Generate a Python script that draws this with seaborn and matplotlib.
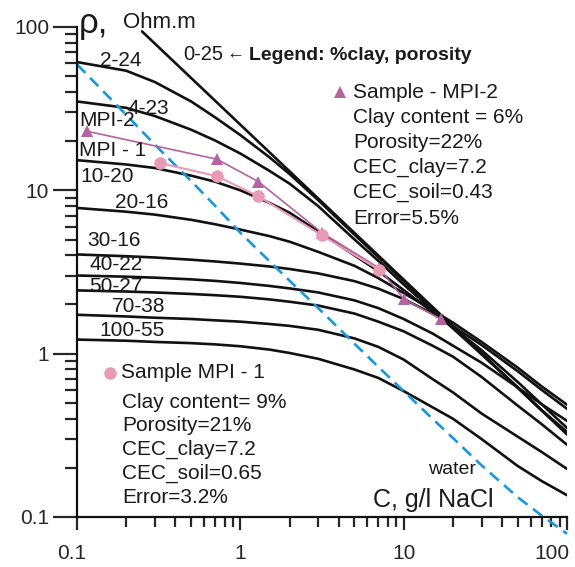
import numpy as np
import pandas as pd
import matplotlib
matplotlib.use("Agg")
import matplotlib.pyplot as plt
from matplotlib.ticker import LogLocator, NullFormatter
import matplotlib.transforms as mtransforms
import seaborn as sns

# Model curves: rho (Ohm.m) vs C (g/l NaCl); label = %clay-porosity
c_grid = [0.1, 0.2, 0.3, 0.5, 0.7, 1, 1.5, 2, 3, 5, 7, 10, 15, 20, 30, 50, 70, 100]
curve_rho = {
    "2-24": [61, 54, 46, 35, 28, 21.8, 16.0, 12.6, 8.7, 5.35, 3.9, 2.78, 1.90, 1.45, 1.0, 0.62, 0.45, 0.327],
    "4-23": [35, 32, 28.5, 23.5, 20.2, 16.8, 13.2, 11.0, 8.0, 5.0, 3.7, 2.65, 1.85, 1.43, 0.99, 0.62, 0.45, 0.332],
    "10-20": [15.3, 14.4, 13.7, 12.3, 11.3, 10.0, 8.4, 7.3, 5.6, 4.0, 3.2, 2.45, 1.8, 1.45, 1.05, 0.67, 0.49, 0.351],
    "20-16": [7.8, 7.4, 7.1, 6.6, 6.2, 5.75, 5.25, 4.85, 4.2, 3.45, 2.9, 2.35, 1.85, 1.55, 1.18, 0.82, 0.63, 0.487],
    "30-16": [4.05, 3.95, 3.88, 3.76, 3.67, 3.56, 3.42, 3.30, 3.10, 2.78, 2.50, 2.16, 1.76, 1.48, 1.13, 0.78, 0.60, 0.46],
    "40-22": [3.01, 2.96, 2.92, 2.85, 2.79, 2.71, 2.60, 2.51, 2.37, 2.12, 1.90, 1.63, 1.33, 1.12, 0.88, 0.62, 0.49, 0.388],
    "50-27": [2.44, 2.40, 2.37, 2.32, 2.28, 2.23, 2.15, 2.08, 1.97, 1.76, 1.57, 1.37, 1.12, 0.96, 0.72, 0.48, 0.37, 0.277],
    "70-38": [1.73, 1.69, 1.66, 1.63, 1.60, 1.57, 1.52, 1.48, 1.40, 1.24, 1.10, 0.92, 0.70, 0.58, 0.43, 0.31, 0.25, 0.197],
    "100-55": [1.22, 1.20, 1.18, 1.16, 1.14, 1.11, 1.06, 1.01, 0.93, 0.80, 0.71, 0.59, 0.47, 0.40, 0.30, 0.205, 0.166, 0.136],
}
# clean sand (no clay) is a straight line
sand_c = [0.25, 100]
sand_rho = [94, 0.32]

water_rho = [59, 29, 19, 11.4, 8.05, 5.5, 3.7, 2.8, 1.9, 1.15, 0.83, 0.59, 0.40, 0.305, 0.207, 0.132, 0.102, 0.079]

mpi2_c = [0.115, 0.72, 1.29, 3.16, 7.05, 10, 17]
mpi2_rho = [23, 15.5, 11.3, 5.5, 3.35, 2.17, 1.62]
mpi1_c = [0.32, 0.72, 1.29, 3.16, 7.05]
mpi1_rho = [14.7, 12.2, 9.2, 5.3, 3.27]

frames = [pd.DataFrame({"C": sand_c, "rho": sand_rho, "curve": "0-25"})]
for k, v in curve_rho.items():
    frames.append(pd.DataFrame({"C": c_grid, "rho": v, "curve": k}))
curves = pd.concat(frames, ignore_index=True)

sns.set_style("ticks")
plt.rcParams["font.family"] = ["Liberation Sans", "DejaVu Sans"]

W, H = 575, 567
fig = plt.figure(figsize=(W / 100, H / 100), dpi=100)
ax = fig.add_axes([77 / W, 1 - 517 / H, 490 / W, 490 / H])

black = "#111111"
magenta = "#b462a0"
pink = "#e89ab6"
blue = "#1798dc"

sns.lineplot(data=curves, x="C", y="rho", units="curve", estimator=None,
             sort=False, color=black, lw=1.9, ax=ax)
ax.plot(c_grid, water_rho, color=blue, lw=1.9, ls=(0, (4.5, 2.6)), clip_on=False)
sns.lineplot(x=mpi2_c, y=mpi2_rho, color=magenta, lw=1.2, marker="^",
             markersize=9, markeredgewidth=0, sort=False, ax=ax)
sns.lineplot(x=mpi1_c, y=mpi1_rho, color=pink, lw=1.5, marker="o",
             markersize=9, markeredgewidth=0, sort=False, ax=ax)

ax.set_xscale("log")
ax.set_yscale("log")
ticks = [0.1, 1, 10, 100]
tick_labels = ["0.1", "1", "10", "100"]
ax.set_xticks(ticks, tick_labels)
ax.set_yticks(ticks, tick_labels)
for axis in (ax.xaxis, ax.yaxis):
    axis.set_minor_locator(LogLocator(base=10, subs=np.arange(2, 10)))
    axis.set_minor_formatter(NullFormatter())
ax.set_xlim(0.1, 100)
ax.set_ylim(0.1, 100)
ax.set_xlabel("")
ax.set_ylabel("")
sns.despine(ax=ax)
for s in ("left", "bottom"):
    ax.spines[s].set_linewidth(1.6)
    ax.spines[s].set_color(black)
ax.tick_params(axis="y", which="major", length=17, width=1.6, labelsize=15, pad=3)
ax.tick_params(axis="y", which="minor", length=8.5, width=1.6)
ax.tick_params(axis="x", which="major", length=9.5, width=1.6, labelsize=15, pad=10)
ax.tick_params(axis="x", which="minor", length=7, width=1.6)
xl = ax.get_xticklabels()
xl[-1].set_horizontalalignment("right")
xl[-1].set_transform(xl[-1].get_transform() +
                     mtransforms.ScaledTranslation(3 / 100, 0, fig.dpi_scale_trans))
xl[0].set_transform(xl[0].get_transform() +
                    mtransforms.ScaledTranslation(-5 / 100, 0, fig.dpi_scale_trans))


def ptext(px, py, s, **kw):
    kw.setdefault("va", "center")
    kw.setdefault("ha", "left")
    kw.setdefault("fontsize", 14.5)
    kw.setdefault("color", "#1a1a1a")
    fig.text(px / W, 1 - py / H, s, **kw)


ptext(79, 24, "ρ,", fontsize=25)
ptext(123, 22, "Ohm.m", fontsize=16)
ptext(183, 55, "0-25", fontsize=14.5)
ptext(226, 54, "←", fontsize=13)
ptext(249, 56, "Legend: %clay, porosity", fontsize=14, weight="bold")

labels = [(100, 60, "2-24"), (128, 108, "4-23"), (79, 120, "MPI-2"),
          (79, 151, "MPI - 1"), (80, 176, "10-20"), (115, 202, "20-16"),
          (87, 241, "30-16"), (90, 265, "40-22"), (89, 287, "50-27"),
          (112, 306, "70-38"), (99, 331, "100-55")]
for px, py, s in labels:
    ptext(px, py, s, fontsize=15)

fig.add_artist(plt.Line2D([340 / W], [1 - 92 / H], marker="^", color=magenta,
                          markersize=9, markeredgewidth=0, transform=fig.transFigure))
mpi2_text = ["Sample - MPI-2", "Clay content = 6%", "Porosity=22%",
             "CEC_clay=7.2", "CEC_soil=0.43", "Error=5.5%"]
for i, s in enumerate(mpi2_text):
    ptext(353, 92 + 25.2 * i, s, fontsize=15)

fig.add_artist(plt.Line2D([110 / W], [1 - 373 / H], marker="o", color=pink,
                          markersize=9, markeredgewidth=0, transform=fig.transFigure))
ptext(121, 373, "Sample MPI - 1", fontsize=15)
mpi1_text = ["Clay content= 9%", "Porosity=21%", "CEC_clay=7.2",
             "CEC_soil=0.65", "Error=3.2%"]
for i, s in enumerate(mpi1_text):
    ptext(122, 402 + 23.8 * i, s, fontsize=15)

ptext(428, 469, "water", fontsize=14)
ptext(373, 500, "C, g/l NaCl", fontsize=18)

fig.savefig("out.png", dpi=100)
